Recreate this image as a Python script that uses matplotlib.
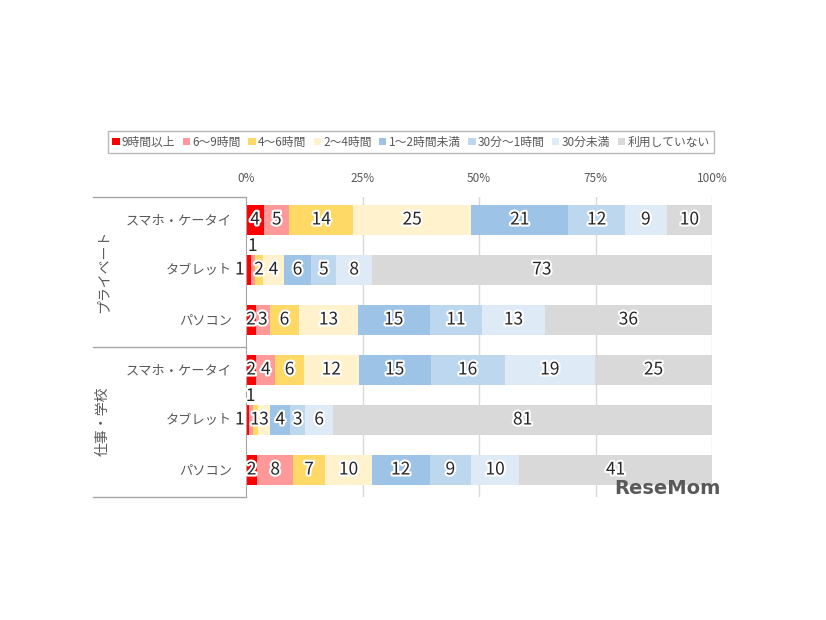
import matplotlib
matplotlib.use('Agg')
import matplotlib.pyplot as plt
import matplotlib.patheffects as pe
from matplotlib.lines import Line2D
import numpy as np

plt.rcParams['font.family'] = ['Noto Sans CJK JP', 'DejaVu Sans']

# legend / series names
series = ['9時間以上', '6～9時間', '4～6時間', '2～4時間',
          '1～2時間未満', '30分～1時間', '30分未満', '利用していない']
colors = ['#FF0000', '#FF9999', '#FFD966', '#FFF2CC',
          '#9DC3E6', '#BDD7EE', '#DEEBF7', '#D9D9D9']

devices = ['スマホ・ケータイ', 'タブレット', 'パソコン',
           'スマホ・ケータイ', 'タブレット', 'パソコン']
groups = ['プライベート', '仕事・学校']

# share (%) per row, in legend order
private_phone = [3.9, 5.4, 13.7, 25.3, 20.9, 12.1, 9.0, 9.7]
private_tablet = [1.0, 0.9, 1.8, 4.4, 5.9, 5.4, 7.6, 73.0]
private_pc = [2.1, 3.0, 6.3, 12.6, 15.4, 11.3, 13.4, 35.9]
work_phone = [2.2, 4.1, 6.1, 11.8, 15.4, 15.9, 19.4, 25.1]
work_tablet = [0.6, 0.8, 1.1, 2.7, 4.3, 3.2, 6.0, 81.3]
work_pc = [2.4, 7.7, 6.9, 10.0, 12.4, 8.9, 10.3, 41.4]

rows = np.array([private_phone, private_tablet, private_pc,
                 work_phone, work_tablet, work_pc])

W, H = 826, 620
fig = plt.figure(figsize=(W / 100, H / 100), dpi=100)
ax = fig.add_axes([246 / W, 1 - 497 / H, (712 - 246) / W, 300 / H])

y = np.arange(len(devices))
grey = '#595959'
glow = [pe.withStroke(linewidth=3, foreground='white')]

for g in [25, 50, 75, 100]:
    ax.axvline(g, color='#D9D9D9', linewidth=1, zorder=0)

left = np.zeros(len(devices))
for j, name in enumerate(series):
    vals = rows[:, j]
    ax.barh(y, vals, left=left, height=0.6, color=colors[j],
            label=name, zorder=2)
    for i, v in enumerate(vals):
        txt = f'{v:.0f}'
        cx = left[i] + v / 2
        if v < 1.0 and j == 1:
            # tiny slice: label above the bar
            ax.text(cx, y[i] - 0.29, txt, ha='center', va='bottom',
                    fontsize=12.5, color='#262626', path_effects=glow, zorder=4)
        elif v <= 1.0 and j == 0:
            # tiny slice: label left of the bar
            ax.text(-0.3, y[i], txt, ha='right', va='center',
                    fontsize=12.5, color='#262626', path_effects=glow, zorder=4,
                    clip_on=False)
        else:
            ax.text(cx, y[i], txt, ha='center', va='center',
                    fontsize=12.5, color='#262626', path_effects=glow, zorder=4)
    left += vals

ax.set_xlim(0, 100)
ax.set_ylim(len(devices) - 0.45, -0.45)
ax.xaxis.tick_top()
ax.set_xticks([0, 25, 50, 75, 100])
ax.set_xticklabels(['0%', '25%', '50%', '75%', '100%'])
ax.tick_params(axis='x', length=0, pad=9, labelsize=8.5, labelcolor=grey)
ax.set_yticks(y)
ax.set_yticklabels(devices)
ax.tick_params(axis='y', length=0, pad=10, labelsize=9.5, labelcolor=grey)
for s in ['top', 'right', 'bottom']:
    ax.spines[s].set_visible(False)
ax.spines['left'].set_color('#A6A6A6')

# category brackets on the left
for yy in [197, 347, 497]:
    fig.add_artist(Line2D([93 / W, 246 / W], [1 - yy / H, 1 - yy / H],
                          color='#A6A6A6', linewidth=1))
fig.text(103 / W, 1 - 271 / H, groups[0], rotation=90, ha='center',
         va='center', fontsize=10, color=grey)
fig.text(103 / W, 1 - 421 / H, groups[1], rotation=90, ha='center',
         va='center', fontsize=10, color=grey)

leg = fig.legend(loc='center', bbox_to_anchor=(411 / W, 1 - 142 / H),
                 ncol=8, fontsize=8.5, frameon=True, fancybox=False,
                 handlelength=0.6, handleheight=0.6, handletextpad=0.2,
                 columnspacing=0.65, borderpad=0.35, labelcolor=grey)
leg.get_frame().set_edgecolor('#A6A6A6')
leg.get_frame().set_linewidth(1)

fig.text(721 / W, 1 - 494 / H, 'ReseMom', ha='right', va='baseline',
         fontsize=14, fontweight='bold', color='#595959',
         family=['DejaVu Sans'], zorder=10)

fig.savefig('out.png', dpi=100)
